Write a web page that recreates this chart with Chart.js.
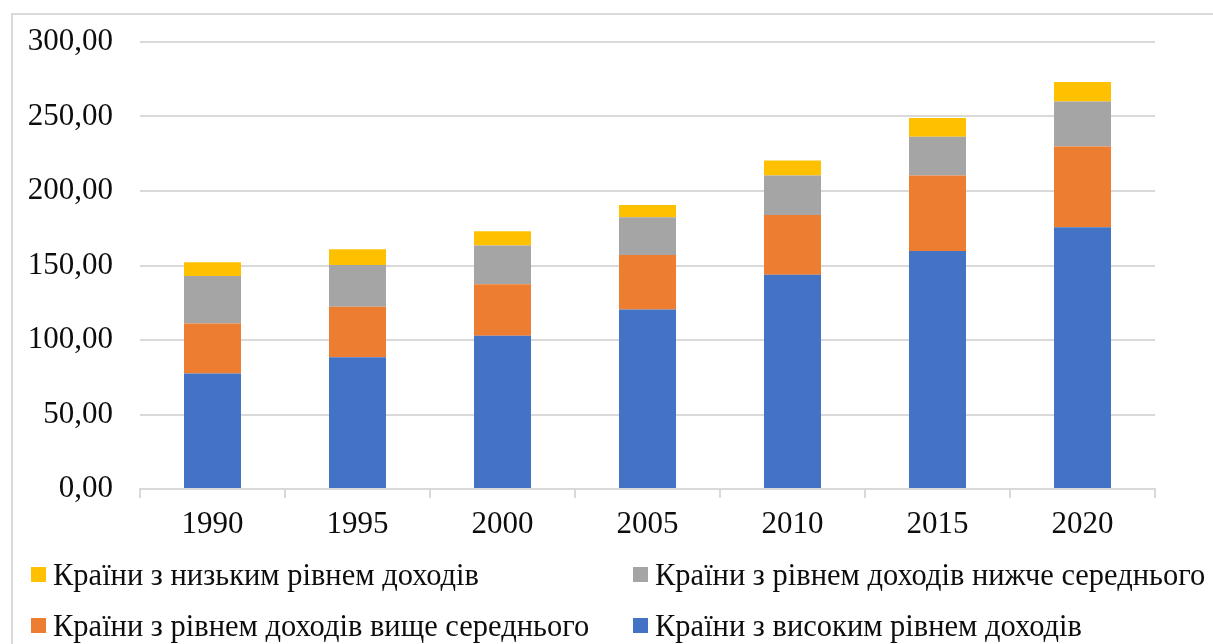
<!DOCTYPE html>
<html>
<head>
<meta charset="utf-8">
<script src="https://cdn.jsdelivr.net/npm/chart.js@4.4.1/dist/chart.umd.min.js"></script>
<style>
  html, body { margin: 0; padding: 0; background: #fff; }
  #wrap { position: relative; width: 1213px; height: 644px; overflow: hidden; background: #fff; }
  #frame { position: absolute; left: 11px; top: 13px; width: 1300px; height: 700px; border: 2px solid #d9d9d9; box-sizing: border-box; }
  #cv { position: absolute; left: 0; top: 0; }
  .lg { position: absolute; font-family: "Liberation Serif", "Times New Roman", serif; font-size: 30.5px; color: #0d0d0d; line-height: 30px; white-space: nowrap; }
  .lg i { position: absolute; width: 15px; height: 15px; left: 0; top: 7px; }
  .lg span { position: absolute; left: 22px; top: 0; }
</style>
</head>
<body>
<div id="wrap">
  <div id="frame"></div>
  <canvas id="cv" width="1213" height="644"></canvas>
  <div id="legend"></div>
</div>
<script>
const categories = ['1990', '1995', '2000', '2005', '2010', '2015', '2020'];
const highIncome = [77.5, 88.4, 102.8, 120.5, 143.8, 159.7, 175.7];
const upperMiddle = [33.6, 33.9, 34.7, 36.5, 40.1, 50.7, 54.2];
const lowerMiddle = [31.8, 28.0, 26.0, 25.4, 26.5, 26.0, 30.2];
const lowIncome = [9.2, 10.6, 9.5, 8.2, 10.0, 12.6, 13.1];
const yTickLabels = ['0,00', '50,00', '100,00', '150,00', '200,00', '250,00', '300,00'];
const seriesNames = [
  'Країни з високим рівнем доходів',
  'Країни з рівнем доходів вище середнього',
  'Країни з рівнем доходів нижче середнього',
  'Країни з низьким рівнем доходів'
];
const seriesColors = ['#4472C4', '#ED7D31', '#A5A5A5', '#FFC000'];
const seriesData = [highIncome, upperMiddle, lowerMiddle, lowIncome];

const font = { family: '"Liberation Serif", "Times New Roman", serif', size: 31 };

const chart = new Chart(document.getElementById('cv'), {
  type: 'bar',
  data: {
    labels: categories,
    datasets: seriesData.map((d, i) => ({
      label: seriesNames[i],
      data: d,
      backgroundColor: seriesColors[i],
      borderWidth: 0,
      barPercentage: 0.393,
      categoryPercentage: 1.0
    }))
  },
  options: {
    responsive: false,
    animation: false,
    devicePixelRatio: 1,
    layout: { padding: { top: 42, right: 58, bottom: 85, left: 0 } },
    plugins: { legend: { display: false }, tooltip: { enabled: false } },
    scales: {
      x: {
        stacked: true,
        grid: { display: true, drawOnChartArea: false, drawTicks: true, tickLength: 9, color: '#d9d9d9', lineWidth: 2, offset: true },
        border: { display: true, color: '#d9d9d9', width: 2 },
        ticks: { color: '#0d0d0d', font: font, padding: 8, maxRotation: 0 },
        afterFit: s => { s.height = 70; s.paddingLeft = 0; s.paddingRight = 0; }
      },
      y: {
        stacked: true,
        min: 0, max: 300,
        grid: { color: '#d9d9d9', lineWidth: 2, drawTicks: false },
        border: { display: false },
        ticks: {
          stepSize: 50, color: '#0d0d0d', font: font, padding: 27,
          callback: (v) => yTickLabels[Math.round(v / 50)]
        },
        afterFit: s => { s.width = 140; s.paddingTop = 0; s.paddingBottom = 0; }
      }
    }
  }
});

// legend (reversed order, 2 columns)
const legendOrder = [3, 2, 1, 0];
const legendPos = [[31, 560], [633, 560], [31, 611], [633, 611]];
const lg = document.getElementById('legend');
legendOrder.forEach((si, k) => {
  const d = document.createElement('div');
  d.className = 'lg';
  d.style.left = legendPos[k][0] + 'px';
  d.style.top = legendPos[k][1] + 'px';
  d.innerHTML = '<i style="background:' + seriesColors[si] + '"></i><span>' + seriesNames[si] + '</span>';
  lg.appendChild(d);
});
</script>
</body>
</html>
